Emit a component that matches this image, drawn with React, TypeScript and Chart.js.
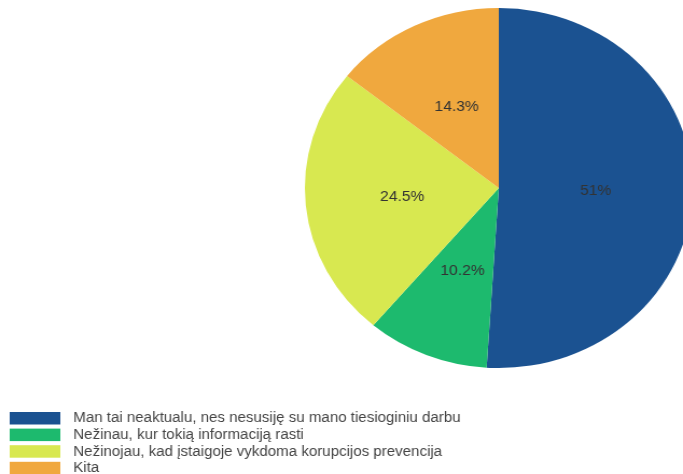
import { useEffect, useRef } from 'react';
import { Chart, ArcElement, PieController } from 'chart.js';

Chart.register(ArcElement, PieController);

// ---- data ----
const categories = [
  'Man tai neaktualu, nes nesusiję su mano tiesioginiu darbu',
  'Nežinau, kur tokią informaciją rasti',
  'Nežinojau, kad įstaigoje vykdoma korupcijos prevencija',
  'Kita',
];
const shares = [51, 10.2, 24.5, 14.3];
const sliceColors = ['#1b5291', '#1dba6e', '#d8e850', '#f0a83e'];

// ---- layout / style ----
const VIEW_W = 683;
const VIEW_H = 474;
const CANVAS_W = 634; // drawn narrower then stretched horizontally, like the reference
const FONT = 'Arial, "Liberation Sans", sans-serif';

const sliceLabelPlugin = {
  id: 'sliceLabels',
  afterDatasetsDraw(chart: any) {
    const ctx = chart.ctx as CanvasRenderingContext2D;
    const meta = chart.getDatasetMeta(0);
    const data = chart.data.datasets[0].data as number[];
    ctx.save();
    ctx.font = `14.5px ${FONT}`;
    ctx.fillStyle = '#333333';
    ctx.textAlign = 'center';
    ctx.textBaseline = 'middle';
    meta.data.forEach((arc: any, i: number) => {
      const p = arc.tooltipPosition(false);
      ctx.fillText(`${data[i]}%`, p.x, p.y);
    });
    ctx.restore();
  },
};

const legendPlugin = {
  id: 'bottomLegend',
  afterDraw(chart: any) {
    const ctx = chart.ctx as CanvasRenderingContext2D;
    const labels = chart.data.labels as string[];
    const colors = chart.data.datasets[0].backgroundColor as string[];
    const top = 412;
    const step = 16.6;
    ctx.save();
    ctx.font = `14px ${FONT}`;
    ctx.textAlign = 'left';
    ctx.textBaseline = 'middle';
    labels.forEach((text, i) => {
      const y = top + i * step;
      ctx.fillStyle = colors[i];
      ctx.fillRect(9, y, 47, 12.5);
      ctx.fillStyle = '#444444';
      ctx.fillText(text, 68, y + 6.5);
    });
    ctx.restore();
  },
};

export default function App() {
  const canvasRef = useRef<HTMLCanvasElement | null>(null);

  useEffect(() => {
    document.body.style.margin = '0';
    const canvas = canvasRef.current;
    if (!canvas) return;
    const chart = new Chart(canvas, {
      type: 'pie',
      data: {
        labels: categories,
        datasets: [
          {
            data: shares,
            backgroundColor: sliceColors,
            borderWidth: 0,
            radius: 180,
            clip: false,
          } as any,
        ],
      },
      options: {
        responsive: false,
        animation: false,
        events: [],
        layout: { padding: { left: 292, right: 0, top: 0, bottom: 98 } },
        plugins: {
          legend: { display: false },
          tooltip: { enabled: false },
        },
      } as any,
      plugins: [sliceLabelPlugin, legendPlugin],
    });
    return () => chart.destroy();
  }, []);

  return (
    <div style={{ width: VIEW_W, height: VIEW_H, position: 'relative', overflow: 'hidden', background: '#fff' }}>
      <canvas
        ref={canvasRef}
        width={CANVAS_W}
        height={VIEW_H}
        style={{ width: `${VIEW_W}px`, height: `${VIEW_H}px`, display: 'block' }}
      />
    </div>
  );
}
